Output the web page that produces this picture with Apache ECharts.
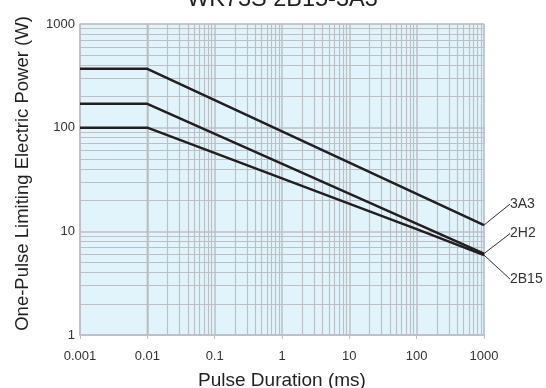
<!DOCTYPE html>
<html>
<head>
<meta charset="utf-8">
<script src="https://cdn.jsdelivr.net/npm/echarts@6/dist/echarts.min.js"></script>
<style>
  html, body { margin: 0; padding: 0; background: #fff; }
  #chart { width: 546px; height: 388px; }
</style>
</head>
<body>
<div id="chart"></div>
<script>
// pulse duration (ms) / limiting power (W)
const duration3A3 = [0.001, 0.01, 1000];
const power3A3 = [370, 370, 11.5];
const duration2H2 = [0.001, 0.01, 1000];
const power2H2 = [170, 170, 6.1];
const duration2B15 = [0.001, 0.01, 100, 1000];
const power2B15 = [100, 100, 10.5, 5.9];

// log grid: decades and the 2..9 subdivisions inside each
const xDecades = [0.001, 0.01, 0.1, 1, 10, 100];
const yDecades = [1, 10, 100];
const subSteps = [2, 3, 4, 5, 6, 7, 8, 9];

const font = "'Liberation Sans', Arial, sans-serif";
const gridColor = "#bcc0c4";
const ink = "#231f20";

const fmt = (v) => String(+Number(v).toPrecision(6));

const minorLines = [];
xDecades.forEach((d) => subSteps.forEach((s) => minorLines.push({ xAxis: +(d * s).toPrecision(6) })));
yDecades.forEach((d) => subSteps.forEach((s) => minorLines.push({ yAxis: +(d * s).toPrecision(6) })));

const curve = (name, xs, ys, dx, dy) => ({
  name,
  type: "line",
  z: 10,
  symbol: "circle",
  symbolSize: 0,
  showSymbol: true,
  data: xs.map((x, i) => ({
    value: [x, ys[i]],
    label: { show: i === xs.length - 1 }
  })),
  lineStyle: { color: ink, width: 2.5 },
  itemStyle: { color: ink },
  label: {
    position: "right",
    distance: 4,
    formatter: name,
    color: "#333",
    fontSize: 14,
    fontFamily: font
  },
  labelLayout: { dx, dy },
  labelLine: { show: true, lineStyle: { color: "#333", width: 1 } }
});

const chart = echarts.init(document.getElementById("chart"));
chart.setOption({
  animation: false,
  backgroundColor: "#fff",
  graphic: [
    {
      type: "text",
      x: 187,
      y: -12,
      silent: true,
      style: { text: "WK73S 2B15-3A3", fill: ink, fontSize: 23.5, fontFamily: font }
    }
  ],
  grid: {
    left: 80, right: 62, top: 24, bottom: 53,
    containLabel: false,
    outerBoundsMode: "none",
    show: true, backgroundColor: "#e2f4fb", borderColor: gridColor, borderWidth: 1
  },
  xAxis: {
    type: "log",
    logBase: 10,
    min: 0.001,
    max: 1000,
    splitNumber: 6,
    name: "Pulse Duration (ms)",
    nameLocation: "middle",
    nameGap: 36,
    nameTextStyle: { color: ink, fontSize: 19, fontFamily: font },
    axisLine: { lineStyle: { color: gridColor, width: 1.5 } },
    axisTick: { show: true, length: 4, lineStyle: { color: gridColor } },
    axisLabel: { color: "#333", fontSize: 13, fontFamily: font, margin: 15, formatter: fmt },
    splitLine: { show: true, lineStyle: { color: gridColor, width: 1.5 } }
  },
  yAxis: {
    type: "log",
    logBase: 10,
    min: 1,
    max: 1000,
    splitNumber: 3,
    name: "One-Pulse Limiting Electric Power (W)",
    nameLocation: "middle",
    nameGap: 48,
    nameTextStyle: { color: ink, fontSize: 18.5, fontFamily: font, padding: [0, 0, 0, 12] },
    axisLine: { show: true, lineStyle: { color: gridColor, width: 1.5 } },
    axisTick: { show: false },
    axisLabel: { color: "#333", fontSize: 13, fontFamily: font, margin: 5, formatter: fmt },
    splitLine: { show: true, lineStyle: { color: gridColor, width: 1.5 } }
  },
  series: [
    {
      name: "grid",
      type: "line",
      z: 1,
      silent: true,
      data: [],
      markLine: {
        z: 1,
        silent: true,
        symbol: "none",
        animation: false,
        label: { show: false },
        lineStyle: { color: gridColor, width: 1.2, type: "solid" },
        data: minorLines
      }
    },
    curve("3A3", duration3A3, power3A3, 22, -21),
    curve("2H2", duration2H2, power2H2, 22, -20),
    curve("2B15", duration2B15, power2B15, 22, 24)
  ]
});
</script>
</body>
</html>
